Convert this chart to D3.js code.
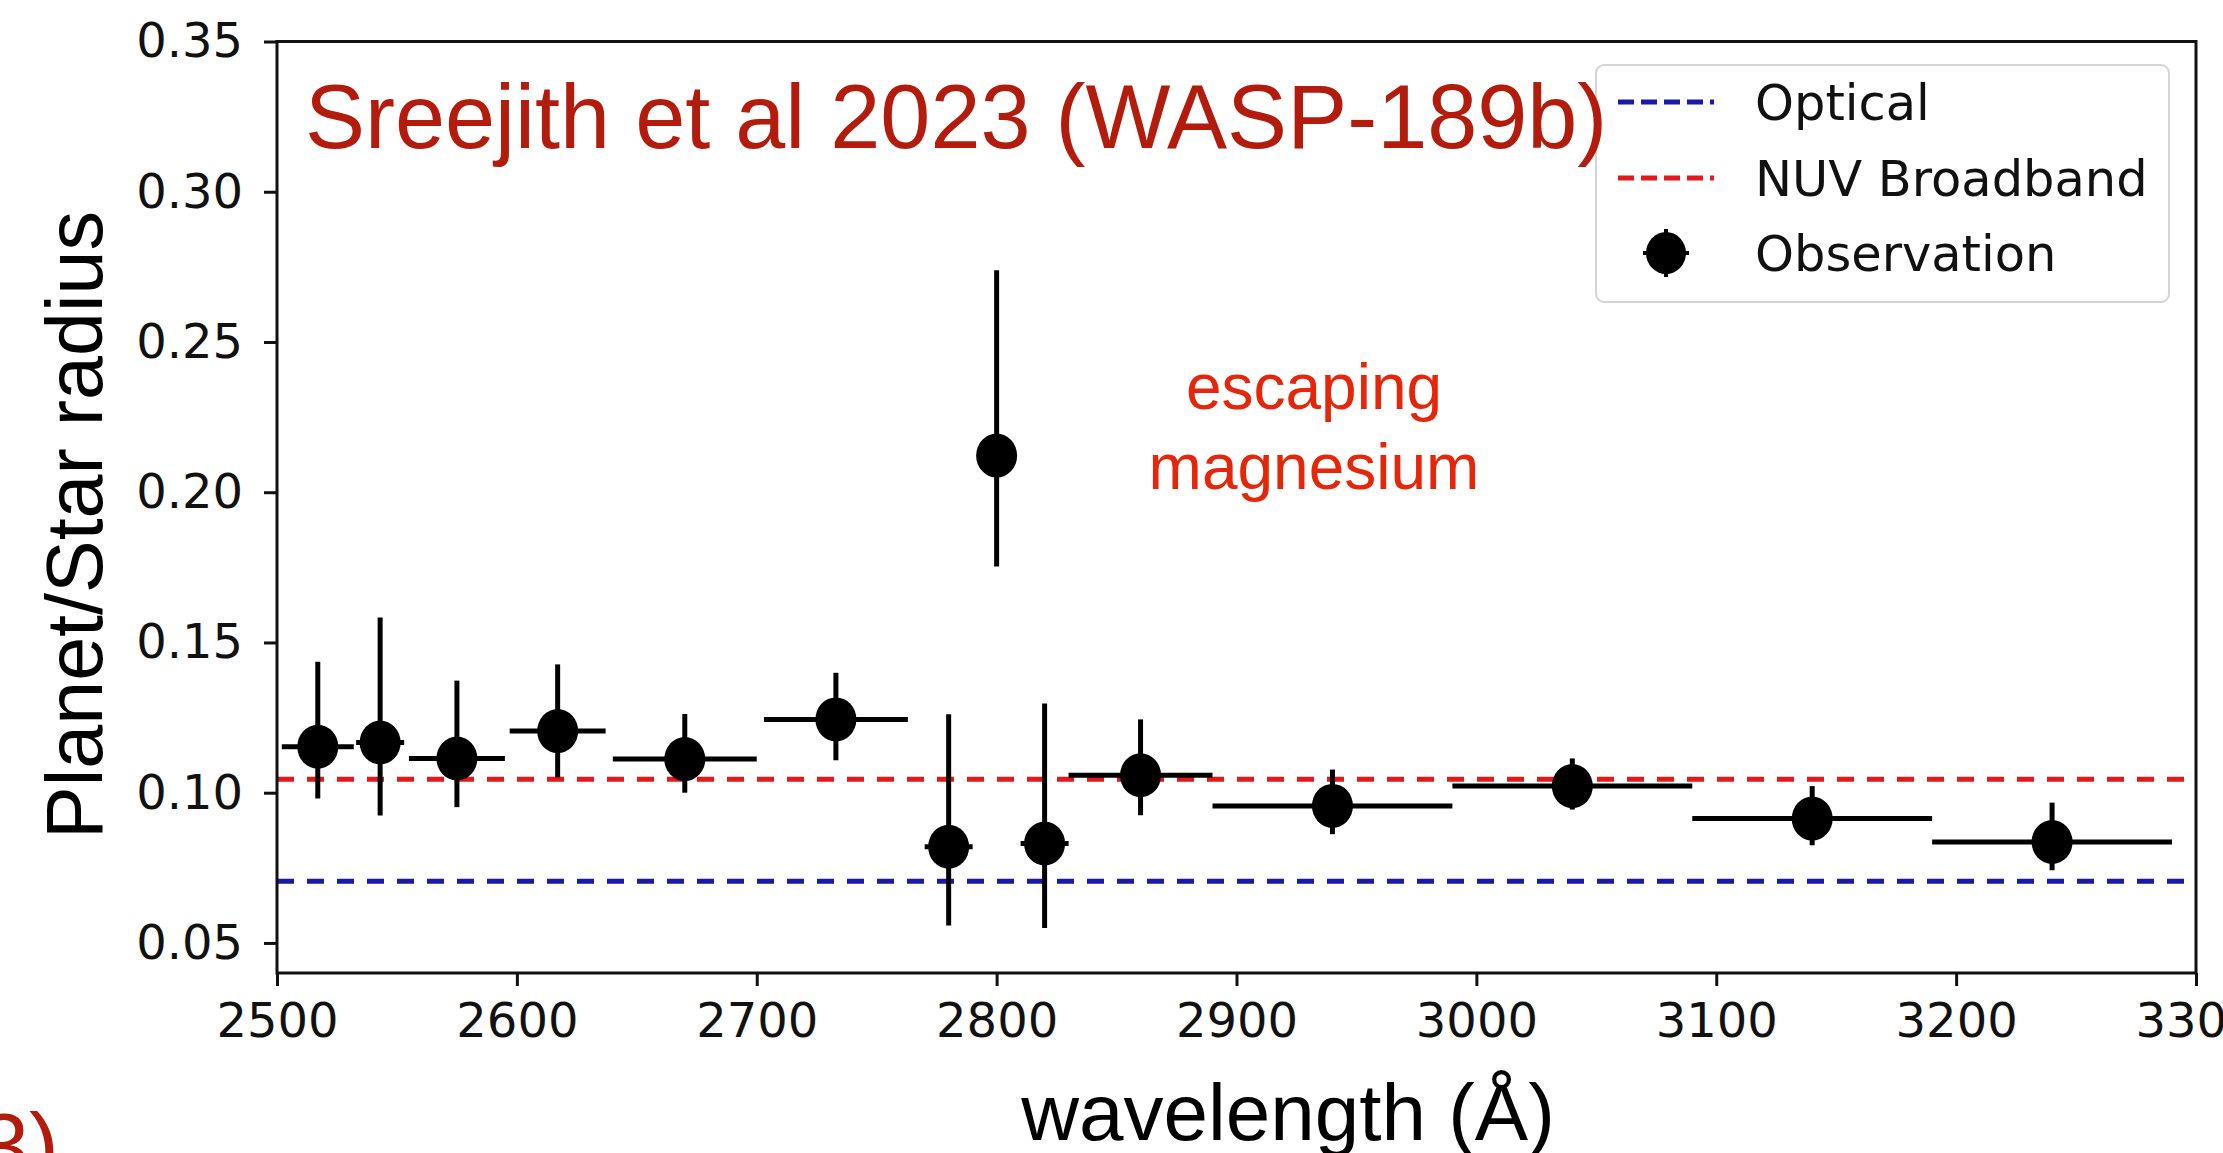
<!DOCTYPE html>
<html>
<head>
<meta charset="utf-8">
<script src="https://cdn.jsdelivr.net/npm/d3@7"></script>
<style>
  html, body { margin: 0; padding: 0; background: #fff; }
  svg { display: block; }
</style>
</head>
<body>
<script>
// ---- data ----
const wavelength = [2517, 2543, 2575, 2617, 2670, 2733, 2780, 2800, 2820, 2860, 2940, 3040, 3140, 3240];
const radius     = [0.1153, 0.1167, 0.1114, 0.1205, 0.1112, 0.1244, 0.0820, 0.2122, 0.0831, 0.1058, 0.0956, 0.1022, 0.0914, 0.0836];
const errHigh    = [0.0283, 0.0416, 0.0259, 0.0222, 0.0150, 0.0155, 0.0441, 0.0617, 0.0466, 0.0186, 0.0121, 0.0092, 0.0108, 0.0131];
const errLow     = [0.0172, 0.0243, 0.0162, 0.0154, 0.0112, 0.0136, 0.0262, 0.0369, 0.0281, 0.0133, 0.0094, 0.0078, 0.0089, 0.0094];
const binHalf    = [15, 10, 20, 20, 30, 30, 10, 5, 10, 30, 50, 50, 50, 50];
const opticalLevel = 0.0705;
const nuvLevel = 0.1045;
const xTicks = [2500, 2600, 2700, 2800, 2900, 3000, 3100, 3200, 3300];
const yTicks = [0.05, 0.10, 0.15, 0.20, 0.25, 0.30, 0.35];
const legendLabels = ["Optical", "NUV Broadband", "Observation"];
const titleText = "Sreejith et al 2023 (WASP-189b)";
const noteLines = ["escaping", "magnesium"];
const xLabel = "wavelength (Å)";
const yLabel = "Planet/Star radius";

// ---- layout ----
const W = 2223, H = 1153;
const L = 277, R = 2196, T = 41.5, B = 973;
const tickFont = "'DejaVu Sans', sans-serif";
const sansFont = "'Liberation Sans', Arial, Helvetica, sans-serif";
const blue = "#1a1aa8", red = "#e01a1a";

const svg = d3.select("body").append("svg").attr("width", W).attr("height", H);
svg.append("rect").attr("width", W).attr("height", H).attr("fill", "#fff");

const x = d3.scaleLinear().domain([2500, 3300]).range([L, R]);
const y = d3.scaleLinear().domain([0.04, 0.35]).range([B, T]);

const data = wavelength.map((w, i) => ({
  w, r: radius[i], hi: errHigh[i], lo: errLow[i], hw: binHalf[i]
}));

const plot = svg.append("g");
svg.append("clipPath").attr("id", "clip").append("rect")
  .attr("x", L).attr("y", T).attr("width", R - L).attr("height", B - T);
const inner = plot.append("g").attr("clip-path", "url(#clip)");

// reference lines
[[opticalLevel, blue], [nuvLevel, red]].forEach(([v, c]) => {
  inner.append("line")
    .attr("x1", x(2500)).attr("x2", x(3300))
    .attr("y1", y(v)).attr("y2", y(v))
    .attr("stroke", c).attr("stroke-width", 5)
    .attr("stroke-dasharray", "17,13");
});

// error bars
const eb = inner.append("g").attr("stroke", "#000").attr("stroke-width", 5);
eb.selectAll("line.v").data(data).join("line").attr("class", "v")
  .attr("x1", d => x(d.w)).attr("x2", d => x(d.w))
  .attr("y1", d => y(d.r + d.hi)).attr("y2", d => y(d.r - d.lo));
eb.selectAll("line.h").data(data).join("line").attr("class", "h")
  .attr("x1", d => x(d.w - d.hw)).attr("x2", d => x(d.w + d.hw))
  .attr("y1", d => y(d.r)).attr("y2", d => y(d.r));

// markers
inner.selectAll("ellipse.pt").data(data).join("ellipse").attr("class", "pt")
  .attr("cx", d => x(d.w)).attr("cy", d => y(d.r))
  .attr("rx", 20.5).attr("ry", 22).attr("fill", "#000");

// axes
const xAxis = d3.axisBottom(x).tickValues(xTicks).tickSize(13).tickPadding(17).tickFormat(d3.format("d"));
const yAxis = d3.axisLeft(y).tickValues(yTicks).tickSize(13).tickPadding(21).tickFormat(d3.format(".2f"));

const gx = svg.append("g").attr("transform", `translate(0,${B})`).call(xAxis);
const gy = svg.append("g").attr("transform", `translate(${L},0)`).call(yAxis);
[gx, gy].forEach(g => {
  g.select(".domain").remove();
  g.selectAll(".tick line").attr("stroke", "#111").attr("stroke-width", 3);
  g.selectAll(".tick text").attr("fill", "#111").attr("font-family", tickFont).attr("font-size", 48);
});

// frame
svg.append("rect").attr("x", L).attr("y", T).attr("width", R - L).attr("height", B - T)
  .attr("fill", "none").attr("stroke", "#111").attr("stroke-width", 3);

// axis labels
svg.append("text").attr("x", 1288).attr("y", 1140).attr("text-anchor", "middle")
  .attr("font-family", sansFont).attr("font-size", 80).attr("fill", "#000").text(xLabel);
svg.append("text").attr("transform", "translate(102,525) rotate(-90)").attr("text-anchor", "middle")
  .attr("font-family", sansFont).attr("font-size", 79).attr("fill", "#000").text(yLabel);

// legend
const lg = svg.append("g");
lg.append("rect").attr("x", 1596).attr("y", 65).attr("width", 573).attr("height", 237)
  .attr("rx", 8).attr("fill", "#fff").attr("fill-opacity", 0.85)
  .attr("stroke", "#d4d4d4").attr("stroke-width", 2);
const rowY = [102, 178, 253];
const legendColors = [blue, red];
legendColors.forEach((c, i) => {
  lg.append("line").attr("x1", 1618).attr("x2", 1714).attr("y1", rowY[i]).attr("y2", rowY[i])
    .attr("stroke", c).attr("stroke-width", 5).attr("stroke-dasharray", "16,7");
});
lg.append("line").attr("x1", 1666).attr("x2", 1666).attr("y1", rowY[2] - 24).attr("y2", rowY[2] + 24)
  .attr("stroke", "#000").attr("stroke-width", 4);
lg.append("line").attr("x1", 1643).attr("x2", 1689).attr("y1", rowY[2]).attr("y2", rowY[2])
  .attr("stroke", "#000").attr("stroke-width", 4);
lg.append("ellipse").attr("cx", 1666).attr("cy", rowY[2]).attr("rx", 20).attr("ry", 21).attr("fill", "#000");
lg.selectAll("text").data(legendLabels).join("text")
  .attr("x", 1755).attr("y", (d, i) => rowY[i] + 18)
  .attr("font-family", tickFont).attr("font-size", 49.5).attr("fill", "#111").text(d => d);

// annotations
svg.append("text").attr("x", 305).attr("y", 148)
  .attr("font-family", sansFont).attr("font-size", 90).attr("fill", "#b31b0c").text(titleText);
const note = svg.append("text").attr("text-anchor", "middle")
  .attr("font-family", sansFont).attr("font-size", 64).attr("fill", "#e5260a");
noteLines.forEach((t, i) => note.append("tspan").attr("x", 1314).attr("y", 409 + i * 80).text(t));
svg.append("text").attr("x", 59).attr("y", 1177).attr("text-anchor", "end")
  .attr("font-family", sansFont).attr("font-size", 90).attr("fill", "#b31b0c").text("3)");
</script>
</body>
</html>
